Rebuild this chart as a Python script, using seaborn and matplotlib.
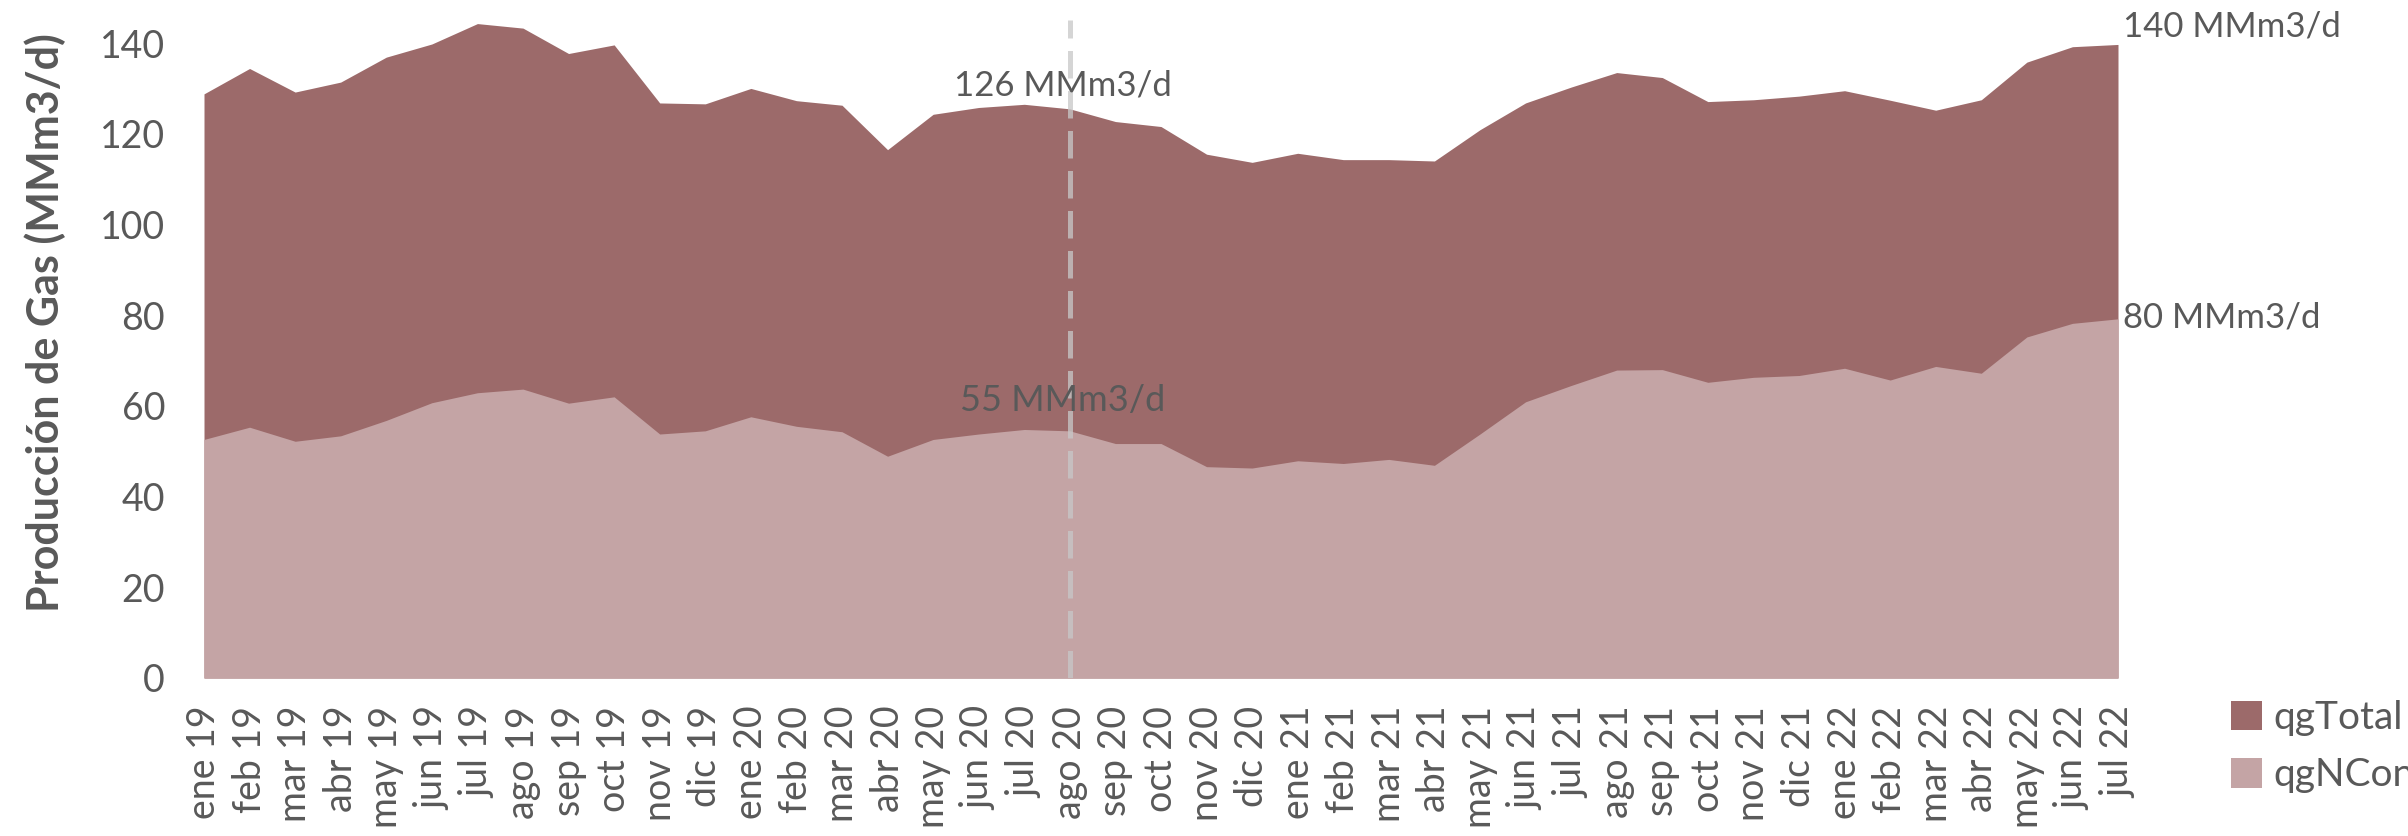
import matplotlib
matplotlib.use("Agg")
import matplotlib.pyplot as plt
import seaborn as sns
import pandas as pd
import numpy as np
from matplotlib.patches import Patch

months = ["ene 19", "feb 19", "mar 19", "abr 19", "may 19", "jun 19", "jul 19", "ago 19", "sep 19", "oct 19",
          "nov 19", "dic 19", "ene 20", "feb 20", "mar 20", "abr 20", "may 20", "jun 20", "jul 20", "ago 20",
          "sep 20", "oct 20", "nov 20", "dic 20", "ene 21", "feb 21", "mar 21", "abr 21", "may 21", "jun 21",
          "jul 21", "ago 21", "sep 21", "oct 21", "nov 21", "dic 21", "ene 22", "feb 22", "mar 22", "abr 22",
          "may 22", "jun 22", "jul 22"]

qgTotal = [128.8, 134.4, 129.2, 131.4, 136.9, 139.8, 144.3, 143.3, 137.7, 139.6,
           126.8, 126.6, 130.0, 127.3, 126.3, 116.5, 124.3, 125.8, 126.5, 125.5,
           122.7, 121.6, 115.5, 113.7, 115.7, 114.3, 114.3, 114.0, 120.9, 126.8,
           130.3, 133.5, 132.4, 127.1, 127.5, 128.3, 129.5, 127.4, 125.2, 127.5,
           135.8, 139.2, 139.7]

qgNConv = [52.6, 55.3, 52.2, 53.4, 56.8, 60.7, 62.9, 63.7, 60.6, 62.0,
           53.8, 54.5, 57.6, 55.5, 54.3, 48.9, 52.6, 53.8, 54.8, 54.5,
           51.7, 51.7, 46.6, 46.3, 47.9, 47.3, 48.2, 46.9, 53.8, 60.9,
           64.5, 67.9, 68.0, 65.2, 66.3, 66.7, 68.3, 65.7, 68.7, 67.2,
           75.2, 78.2, 79.2]

series_names = ["qgTotal", "qgNConv"]
series_colors = ["#9C6A6A", "#C4A4A5"]
annot_labels = ["126 MMm3/d", "55 MMm3/d", "140 MMm3/d", "80 MMm3/d"]
marker_month = "ago 20"
y_ticks = [0, 20, 40, 60, 80, 100, 120, 140]

df = pd.DataFrame({"mes": months, "idx": np.arange(len(months)),
                   "qgTotal": qgTotal, "qgNConv": qgNConv})

sns.set_theme(style="white")
plt.rcParams["font.family"] = ["Lato", "DejaVu Sans"]
text_color = "#595959"

fig = plt.figure(figsize=(24.08, 8.36), dpi=100)
ax = fig.add_axes([204 / 2408, (836 - 678) / 836, (2118 - 204) / 2408, 678 / 836])

for name, col in zip(series_names, series_colors):
    sns.lineplot(data=df, x="idx", y=name, ax=ax, color=col, linewidth=0, legend=False)
    ax.fill_between(df["idx"], 0, df[name], color=col, linewidth=0, zorder=2)

mi = months.index(marker_month)
ax.vlines(mi, 0, 145, colors="#C8C8C8", linestyles=(0, (5.5, 2.5)), linewidth=3.6, alpha=0.75, zorder=3)

fs_annot = 25
ax.text(mi - 0.15, 130.7, annot_labels[0], ha="center", va="center", fontsize=fs_annot, color=text_color, zorder=4)
ax.text(mi - 0.15, 61.2, annot_labels[1], ha="center", va="center", fontsize=fs_annot + 1, color=text_color, zorder=4)
last = len(months) - 1
ax.text(last + 0.1, 143.6, annot_labels[2], ha="left", va="center", fontsize=fs_annot, color=text_color, clip_on=False)
ax.text(last + 0.1, 79.5, annot_labels[3], ha="left", va="center", fontsize=fs_annot, color=text_color, clip_on=False)

ax.set_xlim(0, last)
ax.set_ylim(0, 149.5)
ax.set_yticks(y_ticks)
ax.set_yticklabels([str(v) for v in y_ticks])
ax.set_xticks(df["idx"])
ax.set_xticklabels(months, rotation=90, va="top", ha="center")
ax.tick_params(axis="y", labelsize=27, labelcolor=text_color, pad=28, length=0)
ax.tick_params(axis="x", labelsize=27, labelcolor=text_color, pad=20, length=0)
ax.set_xlabel("")
ax.set_ylabel("Producción de Gas (MMm3/d)", fontsize=31, fontweight="bold", color=text_color)
ax.yaxis.set_label_coords(-0.072, 0.524)
for s in ax.spines.values():
    s.set_visible(False)
ax.grid(False)

handles = [Patch(facecolor=c, edgecolor="none") for c in series_colors]
fig.legend(handles, series_names, loc="upper left", bbox_to_anchor=(2231 / 2408, 1 - 700 / 836),
           frameon=False, fontsize=28, labelcolor=text_color, handlelength=0.8, handleheight=0.8,
           handletextpad=0.3, labelspacing=0.55, borderaxespad=0, borderpad=0)

fig.savefig("out.png", dpi=100, facecolor="white")
